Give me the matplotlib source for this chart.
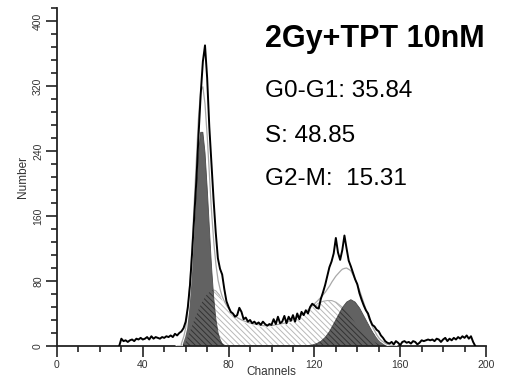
import numpy as np
import matplotlib
matplotlib.use("Agg")
import matplotlib.pyplot as plt
from matplotlib.ticker import MultipleLocator

plt.rcParams["font.family"] = ["Liberation Sans", "DejaVu Sans"]
plt.rcParams["hatch.linewidth"] = 0.7

# Measured DNA histogram (counts per channel)
channels = np.arange(29, 196)
counts = [
    0, 9, 6, 7, 5, 7, 8, 6, 9, 8, 10, 8, 9, 11, 8, 12, 9, 11, 10, 9,
    11, 10, 12, 11, 13, 11, 15, 13, 16, 18, 22, 30, 48, 75, 115, 160, 205, 260, 310, 350,
    370, 330, 270, 225, 180, 140, 108, 95, 88, 70, 55, 48, 42, 40, 36, 38, 47, 42, 33, 35,
    30, 32, 28, 30, 27, 29, 26, 30, 27, 25, 27, 26, 33, 27, 36, 28, 30, 37, 28, 36,
    31, 38, 30, 40, 33, 42, 38, 44, 40, 48, 52, 50, 47, 46, 58, 66, 75, 86, 97, 104,
    114, 133, 115, 106, 118, 136, 120, 105, 98, 90, 82, 76, 65, 57, 50, 44, 40, 32, 26, 24,
    20, 18, 13, 10, 6, 4, 3, 5, 2, 6, 4, 1, 5, 6, 4, 5, 3, 6, 5, 2,
    4, 7, 6, 7, 8, 7, 8, 6, 9, 8, 5, 8, 10, 6, 9, 7, 10, 8, 11, 9,
    12, 10, 13, 9, 12, 5, 0,
]

# G0-G1 model component
g1_ch = np.arange(58, 80)
g1_val = [3, 8, 17, 34, 61, 99, 146, 196, 238, 263, 263, 238, 196, 146, 99, 61,
          34, 17, 8, 3, 1, 0]

# S-phase model component
s_ch = [58, 60, 62, 64, 66, 68, 70, 72, 73, 74, 76, 78, 80, 82, 84, 86, 88, 90, 92, 94,
        96, 98, 100, 102, 104, 106, 108, 110, 112, 114, 116, 118, 120, 122, 124, 126,
        128, 130, 132, 134, 136, 138, 140, 142, 144, 146, 148, 150, 152, 154]
s_val = [0, 5, 18, 32, 45, 56, 64, 68, 69, 68, 62, 54, 46, 40, 35, 32, 30, 28, 27, 26,
         25, 25, 25, 26, 27, 28, 30, 32, 35, 38, 42, 46, 50, 53, 55, 56,
         56, 54, 50, 45, 39, 32, 25, 19, 13, 8, 5, 2, 1, 0]

# G2-M model component
g2_ch = [117, 119, 121, 123, 125, 127, 129, 131, 133, 135, 137, 139, 141, 143, 145,
         147, 149, 151, 153, 155, 157]
g2_val = [0.5, 1.2, 2.8, 5.6, 10.4, 17.5, 27, 37, 47, 54, 57, 54, 47, 37, 27,
          17.5, 10.4, 5.6, 2.8, 1.2, 0.5]

title = "2Gy+TPT 10nM"
stats = ["G0-G1: 35.84", "S: 48.85", "G2-M:  15.31"]

fig = plt.figure(figsize=(5.08, 3.81), dpi=100)
ax = fig.add_axes([57 / 508, 35 / 381, 429 / 508, 338 / 381])

grid = np.linspace(56, 158, 1021)
g1 = np.interp(grid, g1_ch, g1_val, left=0, right=0)
s = np.interp(grid, s_ch, s_val, left=0, right=0)
g2 = np.interp(grid, g2_ch, g2_val, left=0, right=0)
fit = g1 + s + g2
peaks = np.maximum(g1, g2)

fill_gray = "#626262"
# S phase: light hatch on white
ax.fill_between(grid, 0, s, facecolor="white", edgecolor="#b8b8b8", hatch="\\\\\\\\\\\\",
                linewidth=0, zorder=1)
ax.plot(grid, s, color="#b0b0b0", lw=0.8, zorder=1.5)
# G1 / G2 peaks: solid gray
ax.fill_between(grid, 0, peaks, facecolor=fill_gray, edgecolor="none", linewidth=0, zorder=2)
ax.plot(grid, peaks, color="#4a4a4a", lw=0.6, zorder=2.2)
# overlap of S with peaks: dark hatch
ax.fill_between(grid, 0, np.minimum(s, peaks), facecolor="none", edgecolor="#333333",
                hatch="\\\\\\\\\\\\", linewidth=0, zorder=2.5)
# total model
ax.plot(grid, fit, color="white", lw=2.2, zorder=3)
ax.plot(grid, fit, color="#a8a8a8", lw=0.9, zorder=3.1)
# data
ax.plot(channels, counts, color="black", lw=1.4, zorder=4)

ax.set_xlim(0, 200)
ax.set_ylim(0, 416)
ax.spines["top"].set_visible(False)
ax.spines["right"].set_visible(False)
for sp in ("left", "bottom"):
    ax.spines[sp].set_linewidth(1.3)
    ax.spines[sp].set_color("#222222")

ax.xaxis.set_major_locator(MultipleLocator(40))
ax.xaxis.set_minor_locator(MultipleLocator(10))
ax.yaxis.set_major_locator(MultipleLocator(80))
ax.yaxis.set_minor_locator(MultipleLocator(16))
ax.tick_params(which="major", direction="out", length=8, width=1.2, color="#222222",
               labelsize=7.5, labelcolor="#333333", pad=2)
ax.tick_params(which="minor", direction="out", length=4.5, width=1.2, color="#222222")
ax.tick_params(axis="y", labelrotation=90)
for lab in ax.get_yticklabels():
    lab.set_va("center")

ax.set_xlabel("Channels", fontsize=8.5, color="#333333", va="center")
ax.xaxis.set_label_coords(0.5, (381 - 372 - 35) / 338)
ax.set_ylabel("Number", fontsize=8.5, color="#333333", labelpad=3)

fig.text(265 / 508, 1 - 47 / 381, title, fontsize=22, fontweight="bold", va="baseline",
         ha="left")
for i, t in enumerate(stats):
    yb = [97, 142, 185][i]
    fig.text(265 / 508, 1 - yb / 381, t, fontsize=17.5, va="baseline", ha="left")

fig.savefig("out.png", dpi=100)
